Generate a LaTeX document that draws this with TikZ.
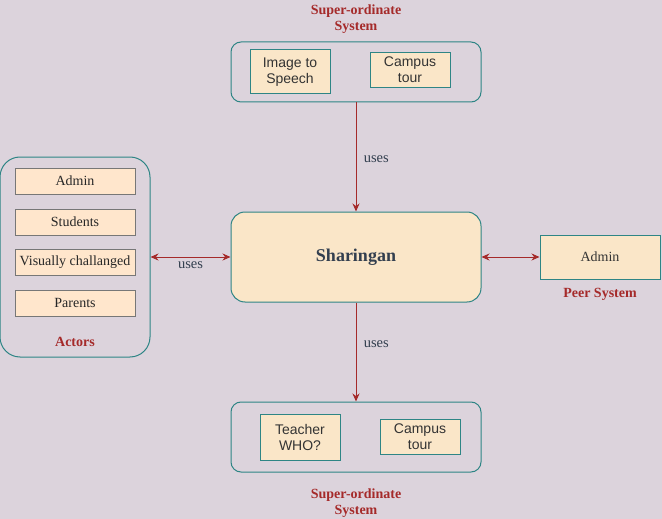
\documentclass[tikz,border=0pt]{standalone}
\usepackage{fontspec}
\setmainfont{Liberation Serif}
\setsansfont{Liberation Sans}
\usetikzlibrary{arrows.meta}
\definecolor{bgc}{HTML}{DCD3DC}
\definecolor{teal2}{HTML}{2E8585}
\definecolor{peach}{HTML}{FFE6CC}
\definecolor{peach2}{HTML}{FAE6C8}
\definecolor{darkred}{HTML}{A52A2A}
\definecolor{txtc}{HTML}{333F4F}
\definecolor{grayb}{HTML}{777777}
\tikzset{
  container/.style={draw=teal2, line width=1pt, rounded corners=#1, inner sep=0pt},
  sbox/.style={draw=teal2, line width=1pt, fill=peach2, inner sep=0pt, align=center,
    font=\sffamily\fontsize{14}{16}\selectfont, text=black!80},
  abox/.style={draw=grayb, line width=1pt, fill=peach, minimum width=120pt, minimum height=26pt,
    inner sep=0pt, font=\fontsize{14}{16}\selectfont, text=black!85},
  lbl/.style={font=\bfseries\fontsize{14}{16.5}\selectfont, text=darkred, align=center},
  usel/.style={font=\fontsize{14.5}{16}\selectfont, text=txtc},
  arr/.style={draw=darkred, line width=1pt, -{Stealth[length=8pt,width=7pt]}},
  darr/.style={draw=darkred, line width=1pt, {Stealth[length=8pt,width=7pt]}-{Stealth[length=8pt,width=7pt]}},
}
\begin{document}
\begin{tikzpicture}[x=1pt,y=-1pt]
\fill[bgc] (0,0) rectangle (662,519);
\useasboundingbox (0,0) rectangle (662,519);

% top container
\node[container=10pt, minimum width=250pt, minimum height=60pt] (top) at (356,72) {};
\node[sbox, minimum width=80pt, minimum height=44pt] (its) at (290,72) {Image to\\Speech};
\node[sbox, minimum width=80pt, minimum height=35pt] (ct1) at (410,70) {Campus\\tour};
\node[lbl] (toplbl) at (356,19) {Super-ordinate\\System};

% central
\node[container=14pt, fill=peach2, minimum width=250pt, minimum height=90pt,
  font=\bfseries\fontsize{18}{20}\selectfont, text=txtc] (sh) at (356,257) {Sharingan};

% left actors container
\node[container=20pt, minimum width=150pt, minimum height=200pt] (act) at (75,257) {};
\node[abox] (a1) at (75,181) {Admin};
\node[abox] (a2) at (75,222) {Students};
\node[abox] (a3) at (75,262) {Visually challanged};
\node[abox] (a4) at (75,303) {Parents};
\node[lbl] (actlbl) at (75,342) {Actors};

% peer system
\node[sbox, fill=peach2, minimum width=120pt, minimum height=44pt,
  font=\fontsize{14}{16}\selectfont] (peer) at (600,257) {Admin};
\node[lbl] (peerlbl) at (600,294) {Peer System};

% bottom container
\node[container=10pt, minimum width=250pt, minimum height=70pt] (bot) at (356,437) {};
\node[sbox, minimum width=80pt, minimum height=46pt] (tw) at (300,437) {Teacher\\WHO?};
\node[sbox, minimum width=80pt, minimum height=35pt] (ct2) at (420,437) {Campus\\tour};
\node[lbl] (botlbl) at (356,503) {Super-ordinate\\System};

% connectors
\draw[arr] (top.south) -- (sh.north) node[usel, pos=0.5, right=4pt, yshift=-2pt] (u1) {uses};
\draw[arr] (sh.south) -- (bot.north) node[usel, pos=0.42, right=4pt] (u2) {uses};
\draw[darr] (act.east) -- (sh.west) node[usel, pos=0.5, below=1pt] (u3) {uses};
\draw[darr] (sh.east) -- (peer.west);
\end{tikzpicture}
\end{document}
